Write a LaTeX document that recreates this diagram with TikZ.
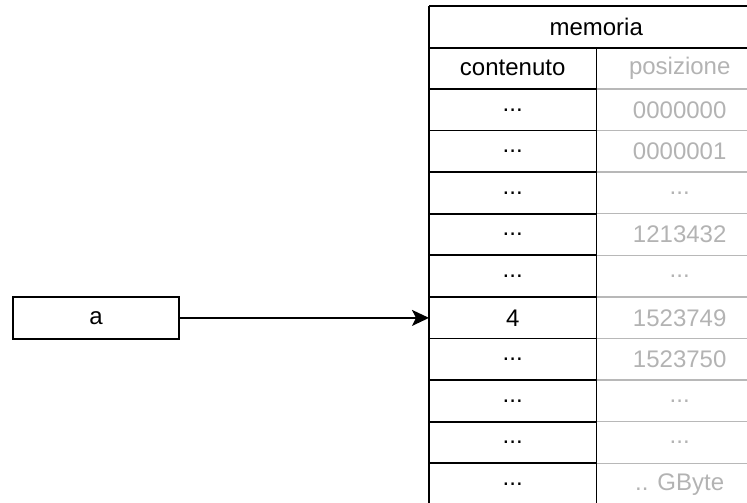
\documentclass[tikz,border=0pt]{standalone}
\usepackage{fontspec}
\setmainfont{Liberation Sans}
\usetikzlibrary{arrows.meta}
\definecolor{gtext}{HTML}{B3B3B3}
\definecolor{gline}{HTML}{B8B8B8}
\newcommand{\mydots}{{.}{.}{.}}
\begin{document}
\begin{tikzpicture}[x=1pt,y=-1pt,
  cell/.style={minimum width=167pt,minimum height=41.6pt,inner sep=0pt,font=\fontsize{24}{28}\selectfont,anchor=north west},
  lcell/.style={cell,text=black},
  rcell/.style={cell,text=gtext},
  blk/.style={line width=1.8pt,draw=black},
  gry/.style={line width=1.5pt,draw=gline}]
\useasboundingbox (0,0) rectangle (747,503);
\clip (0,0) rectangle (747,503);
% header
\node[cell,minimum width=334pt] (hdr) at (429,5.7) {memoria};
% rows
\foreach \k/\l/\r in {1/contenuto/posizione,2/\mydots/0000000,3/\mydots/0000001,4/\mydots/\mydots,5/\mydots/1213432,6/\mydots/\mydots,7/4/1523749,8/\mydots/1523750,9/\mydots/\mydots,10/\mydots/\mydots,11/\mydots/{.. GByte}}{
  \node[lcell] (l\k) at (429,5.7+41.6*\k) {\l};
  \node[rcell] (r\k) at (596,5.7+41.6*\k) {\r};
}
% grey separators in right column
\foreach \k in {2,3,4,5,6,7,8,9,10,11}{
  \draw[gry] (r\k.north west) -- (r\k.north east);
}
% black separators in left column
\foreach \k in {2,3,4,5,6,7,8,9,10,11}{
  \draw[blk] (l\k.north west) -- (l\k.north east);
}
\draw[blk] (hdr.north west) -- (hdr.north east);
\draw[blk] (hdr.south west) -- (hdr.south east);
\draw[blk] (hdr.north west) -- (l11.south west);
\draw[blk] (l1.north east) -- (l11.south east);
\draw[blk] (l11.south west) -- (l11.south east);
% variable box
\node[draw,line width=1.8pt,minimum width=166pt,minimum height=42pt,inner sep=0pt,font=\fontsize{24}{28}\selectfont] (a) at (96,318) {a};
\draw[line width=1.8pt,-{Stealth[length=17pt,width=16pt,inset=4pt]}] (a.east) -- (l7.west);
\end{tikzpicture}
\end{document}
